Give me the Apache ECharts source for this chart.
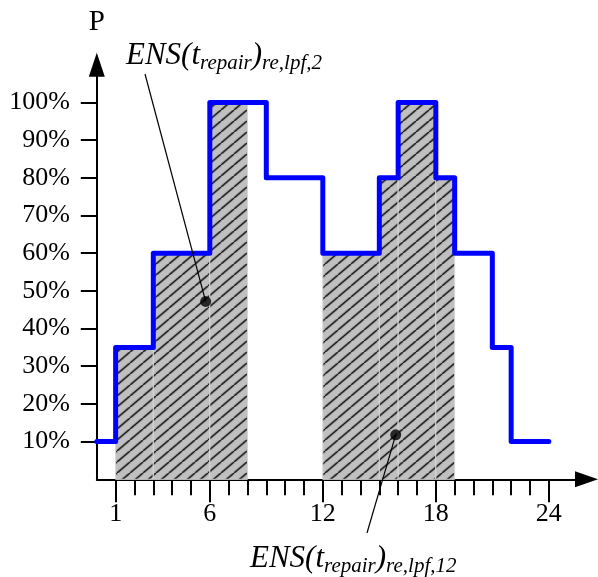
<!DOCTYPE html>
<html>
<head>
<meta charset="utf-8">
<script src="https://cdn.jsdelivr.net/npm/echarts@6/dist/echarts.min.js"></script>
<style>
html,body{margin:0;padding:0;background:#fff;}
#chart{width:598px;height:577px;}
</style>
</head>
<body>
<div id="chart"></div>
<script>
// ---- data ----
const stepHour = [0, 1, 3, 6, 9, 12, 15, 16, 18, 19, 21, 22, 24];
const stepP    = [10, 35, 60, 100, 80, 60, 80, 100, 80, 60, 35, 10, 10];

const hatchStart = [1, 3, 6, 12, 15, 16, 18];
const hatchEnd   = [3, 6, 8, 15, 16, 18, 19];
const hatchP     = [35, 60, 100, 60, 80, 100, 80];

const markerHour = [5.78, 15.87];
const markerP    = [47.2, 11.8];

const xTickValues  = [1,2,3,4,5,6,7,8,9,10,11,12,13,14,15,16,17,18,19,20,21,22,23,24];
const xLabelValues = [1, 6, 12, 18, 24];
const yTickValues  = [10, 20, 30, 40, 50, 60, 70, 80, 90, 100];

const FONT = "'Liberation Serif', 'Times New Roman', serif";

function makeHatch() {
  const w = 13, h = 11;
  const c = document.createElement('canvas');
  c.width = w; c.height = h;
  const ctx = c.getContext('2d');
  ctx.fillStyle = '#c0c0c0';
  ctx.fillRect(0, 0, w, h);
  [[ '#8a8a8a', 2.8 ], [ '#1a1a1a', 1.2 ]].forEach(function (st) {
    ctx.strokeStyle = st[0];
    ctx.lineWidth = st[1];
    [-w, 0, w].forEach(function (dx) {
      ctx.beginPath();
      ctx.moveTo(dx, h);
      ctx.lineTo(dx + w, 0);
      ctx.stroke();
    });
  });
  return c;
}
const hatch = makeHatch();

const chart = echarts.init(document.getElementById('chart'), null, {renderer: 'canvas'});

const option = {
  animation: false,
  backgroundColor: '#ffffff',
  grid: {left: 96.8, right: 11.5, top: 64.7, bottom: 97.7, containLabel: false},
  xAxis: [{
    type: 'value', min: 0, max: 26, position: 'bottom',
    splitLine: {show: false},
    axisLine: {show: true, onZero: false, lineStyle: {color: '#000', width: 2},
      symbol: ['none', 'triangle'], symbolSize: [16, 23]},
    axisTick: {show: true, customValues: xTickValues, length: 16, lineStyle: {color: '#000', width: 2}},
    axisLabel: {show: true, customValues: xLabelValues, fontSize: 26, fontFamily: FONT, color: '#000', margin: 22}
  }, {
    type: 'value', min: 0, max: 26, position: 'bottom',
    splitLine: {show: false},
    axisLine: {show: false, onZero: false},
    axisTick: {show: true, customValues: xLabelValues, length: 23, lineStyle: {color: '#000', width: 2}},
    axisLabel: {show: false}
  }],
  yAxis: {
    type: 'value', min: 0, max: 110,
    name: 'P', nameLocation: 'end', nameGap: 30,
    nameTextStyle: {fontSize: 29, fontFamily: FONT, color: '#000', align: 'center', padding: [0, 0, -2, 0]},
    splitLine: {show: false},
    axisLine: {show: true, onZero: false, lineStyle: {color: '#000', width: 2},
      symbol: ['none', 'triangle'], symbolSize: [16, 24]},
    axisTick: {show: true, customValues: yTickValues, length: 16, lineStyle: {color: '#000', width: 2}},
    axisLabel: {show: true, customValues: yTickValues, formatter: '{value}%', fontSize: 26, fontFamily: FONT, color: '#000', margin: 27}
  },
  series: [{
    type: 'custom',
    xAxisIndex: 0,
    z: 1,
    data: hatchStart.map(function (s, i) { return [s, hatchEnd[i], hatchP[i]]; }),
    encode: {x: [0, 1], y: 2},
    renderItem: function (params, api) {
      const p0 = api.coord([api.value(0), api.value(2)]);
      const p1 = api.coord([api.value(1), 0]);
      return {
        type: 'rect',
        shape: {x: p0[0], y: p0[1], width: p1[0] - p0[0], height: p1[1] - p0[1]},
        style: {fill: {image: hatch, repeat: 'repeat'}, stroke: '#d6d6d6', lineWidth: 1}
      };
    }
  }, {
    type: 'line',
    xAxisIndex: 0,
    z: 3,
    step: 'end',
    symbol: 'none',
    data: stepHour.map(function (h, i) { return [h, stepP[i]]; }),
    lineStyle: {color: '#0000ff', width: 5, join: 'round', cap: 'round'}
  }, {
    type: 'scatter',
    xAxisIndex: 0,
    z: 5,
    symbol: 'circle',
    symbolSize: 11,
    itemStyle: {color: '#000'},
    data: markerHour.map(function (h, i) { return [h, markerP[i]]; })
  }]
};
chart.setOption(option);

// ---- annotations ----
const measureCtx = document.createElement('canvas').getContext('2d');
function textWidth(t, size) {
  measureCtx.font = 'italic ' + size + 'px ' + FONT;
  return measureCtx.measureText(t).width;
}
function buildLabel(parts, left, baseline) {
  const MAIN = 31, SUB = 21, SUBDROP = 4;
  let x = left;
  const els = [];
  parts.forEach(function (p) {
    const size = p[1] ? SUB : MAIN;
    const base = baseline + (p[1] ? SUBDROP : 0);
    els.push({
      type: 'text', z: 10,
      style: {x: x, y: base - 0.78 * size, text: p[0], fill: '#000',
        font: 'italic ' + size + 'px ' + FONT, verticalAlign: 'top', align: 'left'}
    });
    x += textWidth(p[0], size);
  });
  return els;
}
const d1 = chart.convertToPixel({xAxisIndex: 0, yAxisIndex: 0}, [markerHour[0], markerP[0]]);
const d2 = chart.convertToPixel({xAxisIndex: 0, yAxisIndex: 0}, [markerHour[1], markerP[1]]);

let graphics = [];
graphics = graphics.concat(buildLabel([['ENS(t', false], ['repair', true], [')', false], ['re,lpf,2', true]], 126, 65));
graphics = graphics.concat(buildLabel([['ENS(t', false], ['repair', true], [')', false], ['re,lpf,12', true]], 250, 568));
graphics.push({type: 'line', z: 9, shape: {x1: 145, y1: 74, x2: d1[0], y2: d1[1]}, style: {stroke: '#000', lineWidth: 1.2}});
graphics.push({type: 'line', z: 9, shape: {x1: d2[0], y1: d2[1], x2: 367, y2: 533}, style: {stroke: '#000', lineWidth: 1.2}});
chart.setOption({graphic: {elements: graphics}});
</script>
</body>
</html>
